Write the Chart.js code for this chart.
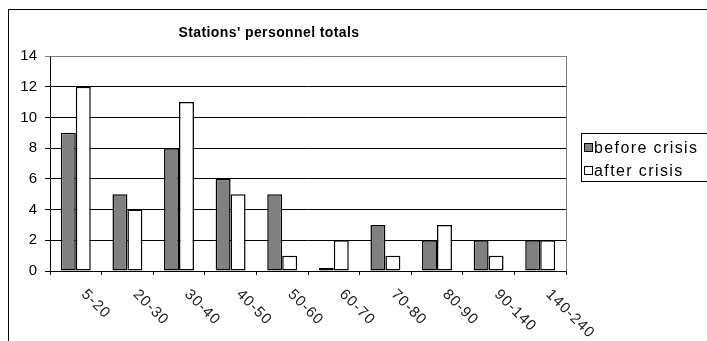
<!DOCTYPE html>
<html>
<head>
<meta charset="utf-8">
<script src="https://cdn.jsdelivr.net/npm/chart.js@4/dist/chart.umd.min.js"></script>
<style>
  html, body { margin: 0; padding: 0; background: #fff; }
  #wrap { width: 707px; height: 341px; position: relative; }
</style>
</head>
<body>
<div id="wrap"><canvas id="c" width="707" height="341"></canvas></div>
<script>
// Staff size bands per station
const categories = ['5-20', '20-30', '30-40', '40-50', '50-60', '60-70', '70-80', '80-90', '90-140', '140-240'];
// Number of stations in each band
const beforeCrisis = [9, 5, 8, 6, 5, 0.2, 3, 2, 2, 2];
const afterCrisis = [12, 4, 11, 5, 1, 2, 1, 3, 1, 2];
const yTicks = [0, 2, 4, 6, 8, 10, 12, 14];
const titleText = "Stations' personnel totals";
const seriesNames = ['before crisis', 'after crisis'];

const FONT = '"Liberation Sans", Arial, sans-serif';

// Outer frame, plot frame, title, legend and slanted category labels
const decor = {
  id: 'decor',
  beforeDatasetsDraw(chart) {
    const { ctx, chartArea: a } = chart;
    ctx.save();
    ctx.strokeStyle = '#808080';
    ctx.lineWidth = 1;
    ctx.beginPath();
    ctx.moveTo(Math.round(a.left) + 0.5, Math.round(a.top) + 0.5);
    ctx.lineTo(Math.round(a.right) + 0.5, Math.round(a.top) + 0.5);
    ctx.lineTo(Math.round(a.right) + 0.5, Math.round(a.bottom) + 0.5);
    ctx.stroke();
    ctx.restore();
  },
  afterDraw(chart) {
    const { ctx, chartArea: a } = chart;
    ctx.save();
    // chart border
    ctx.strokeStyle = '#000';
    ctx.lineWidth = 1;
    ctx.strokeRect(8.5, 9.5, 720, 340);

    // title
    ctx.fillStyle = '#000';
    ctx.font = 'bold 14px ' + FONT;
    ctx.letterSpacing = '0.4px';
    ctx.textAlign = 'center';
    ctx.textBaseline = 'alphabetic';
    ctx.fillText(titleText, 269, 37);

    // legend
    ctx.strokeStyle = '#000';
    ctx.strokeRect(581.5, 133.5, 140, 48);
    const colors = ['#808080', '#ffffff'];
    const rows = [143, 166];
    ctx.font = '16px ' + FONT;
    ctx.letterSpacing = '1.4px';
    ctx.textAlign = 'left';
    seriesNames.forEach((name, i) => {
      ctx.fillStyle = colors[i];
      ctx.fillRect(584, rows[i], 8, 8);
      ctx.strokeStyle = '#000';
      ctx.strokeRect(584.5, rows[i] + 0.5, 8, 8);
      ctx.fillStyle = '#000';
      ctx.fillText(name, 594, rows[i] + 10);
    });

    // slanted category labels
    const x = chart.scales.x;
    ctx.font = '15px ' + FONT;
    ctx.letterSpacing = '1px';
    ctx.fillStyle = '#222';
    ctx.textAlign = 'left';
    ctx.textBaseline = 'middle';
    categories.forEach((c, i) => {
      const px = x.getPixelForValue(i);
      ctx.save();
      ctx.translate(px + 8, a.bottom + 21);
      ctx.rotate(Math.PI / 4);
      ctx.fillText(c, 0, 0);
      ctx.restore();
    });
    ctx.restore();
  }
};

new Chart(document.getElementById('c'), {
  type: 'bar',
  data: {
    labels: categories,
    datasets: [
      { label: seriesNames[0], data: beforeCrisis, backgroundColor: '#808080', borderColor: '#000', borderWidth: 1.5, borderSkipped: false },
      { label: seriesNames[1], data: afterCrisis, backgroundColor: '#ffffff', borderColor: '#000', borderWidth: 1.5, borderSkipped: false }
    ]
  },
  options: {
    responsive: false,
    animation: false,
    devicePixelRatio: 1,
    layout: { padding: { left: 8, right: 141, top: 56, bottom: 0 } },
    datasets: { bar: { categoryPercentage: 0.58, barPercentage: 1 } },
    plugins: { legend: { display: false }, title: { display: false }, tooltip: { enabled: false } },
    scales: {
      x: {
        afterFit: s => { s.height = 70; },
        ticks: { display: false },
        grid: { display: true, drawOnChartArea: false, drawTicks: true, tickLength: 4, color: '#000', offset: true },
        border: { color: '#000', width: 1 }
      },
      y: {
        min: 0, max: 14,
        afterFit: s => { s.width = 42; },
        afterBuildTicks: s => { s.ticks = yTicks.map(v => ({ value: v })); },
        ticks: { font: { family: FONT, size: 15 }, color: '#000', padding: 8 },
        grid: { color: ctx => (ctx.tick && ctx.tick.value === 14 ? '#808080' : '#000'), lineWidth: 1, tickLength: 5, drawTicks: true },
        border: { color: '#000', width: 1 }
      }
    }
  },
  plugins: [decor]
});
</script>
</body>
</html>
